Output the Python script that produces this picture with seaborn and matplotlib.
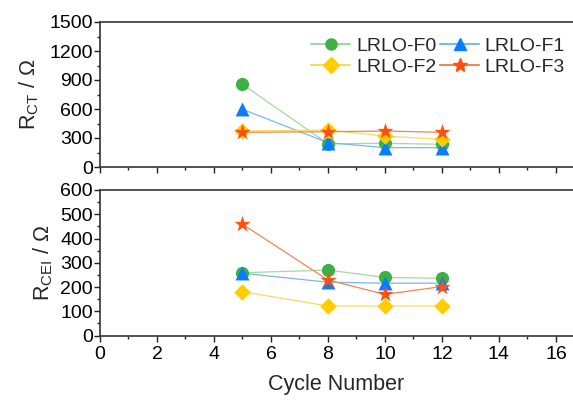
import numpy as np
import pandas as pd
import matplotlib
matplotlib.use('Agg')
import matplotlib.pyplot as plt
import seaborn as sns
from matplotlib.lines import Line2D
from matplotlib.ticker import MultipleLocator

# data
cycles = [5, 8, 10, 12]
samples = ['LRLO-F0', 'LRLO-F1', 'LRLO-F2', 'LRLO-F3']
rct_f0 = [855, 240, 245, 235]
rct_f1 = [597, 252, 200, 200]
rct_f2 = [372, 383, 320, 286]
rct_f3 = [359, 365, 372, 359]
rcei_f0 = [259, 270, 240, 236]
rcei_f1 = [257, 220, 216, 216]
rcei_f2 = [181, 122, 122, 122]
rcei_f3 = [459, 229, 170, 202]

colors = {'LRLO-F0': '#3cb043', 'LRLO-F1': '#0a7cff',
          'LRLO-F2': '#ffcc00', 'LRLO-F3': '#ff5010'}
line_colors = {'LRLO-F0': '#a5d8a0', 'LRLO-F1': '#7ab8e6',
               'LRLO-F2': '#f5dc60', 'LRLO-F3': '#e88a55'}
markers = {'LRLO-F0': 'o', 'LRLO-F1': '^', 'LRLO-F2': 'D', 'LRLO-F3': '*'}
msizes = {'LRLO-F0': 90, 'LRLO-F1': 100, 'LRLO-F2': 70, 'LRLO-F3': 150}

def make_df(vals):
    rows = []
    for name, v in zip(samples, vals):
        for c, y in zip(cycles, v):
            rows.append({'cycle': c, 'value': y, 'sample': name})
    return pd.DataFrame(rows)

df_ct = make_df([rct_f0, rct_f1, rct_f2, rct_f3])
df_cei = make_df([rcei_f0, rcei_f1, rcei_f2, rcei_f3])

sns.set_style('ticks')
plt.rcParams['font.family'] = ['Liberation Sans', 'DejaVu Sans']
plt.rcParams['mathtext.fontset'] = 'custom'
plt.rcParams['mathtext.rm'] = 'Liberation Sans'
plt.rcParams['mathtext.it'] = 'Liberation Sans:italic'

fig = plt.figure(figsize=(5.73, 4.0), dpi=100)
ax1 = fig.add_axes([0.1745, 0.5825, 0.8255, 0.3625])
ax2 = fig.add_axes([0.1745, 0.161, 0.8255, 0.364])

def draw(ax, df):
    for name in samples:
        d = df[df['sample'] == name]
        sns.lineplot(data=d, x='cycle', y='value', ax=ax, color=line_colors[name],
                     lw=0.9, legend=False, zorder=2)
    for name in samples:
        d = df[df['sample'] == name]
        sns.scatterplot(data=d, x='cycle', y='value', ax=ax, color=colors[name],
                        marker=markers[name], s=msizes[name], linewidth=0,
                        legend=False, zorder=3)
    ax.set_xlim(0, 16.6)
    ax.xaxis.set_major_locator(MultipleLocator(2))
    ax.xaxis.set_minor_locator(MultipleLocator(1))
    ax.tick_params(which='major', direction='out', length=4, width=1,
                   labelsize=14, colors='#222222', labelcolor='black')
    ax.tick_params(which='minor', direction='out', length=2.5, width=1, colors='#222222')
    ax.tick_params(axis='y', pad=1)
    for s in ax.spines.values():
        s.set_color('#333333')
        s.set_linewidth(1.2)
    ax.spines['right'].set_visible(False)
    ax.set_xlabel('')

draw(ax1, df_ct)
draw(ax2, df_cei)

ax1.set_ylim(0, 1500)
ax1.yaxis.set_major_locator(MultipleLocator(300))
ax1.yaxis.set_minor_locator(MultipleLocator(150))
ax1.set_xticklabels([])
ax1.set_ylabel(r'R$_{\mathrm{CT}}$ / Ω', fontsize=15.5, labelpad=6)

ax2.set_ylim(0, 600)
ax2.yaxis.set_major_locator(MultipleLocator(100))
ax2.yaxis.set_minor_locator(MultipleLocator(50))
ax2.set_ylabel(r'R$_{\mathrm{CEI}}$ / Ω', fontsize=15.5, labelpad=4)
ax2.set_xlabel('Cycle Number', fontsize=15.5, labelpad=8)

# ncol=2 fills column by column, so order F0, F2 | F1, F3
leg_order = ['LRLO-F0', 'LRLO-F2', 'LRLO-F1', 'LRLO-F3']
handles = [Line2D([], [], color=line_colors[n], lw=1.5, marker=markers[n],
                  markerfacecolor=colors[n], markeredgecolor=colors[n],
                  markersize=10 if n == 'LRLO-F3' else 8)
           for n in leg_order]
ax1.legend(handles, leg_order, ncol=2, loc='upper right', frameon=False,
           fontsize=14, handlelength=2.0, handletextpad=0.3,
           columnspacing=0.2, labelspacing=0.2, borderaxespad=0.3,
           bbox_to_anchor=(1.012, 0.99))

fig.savefig('out.png', dpi=100)
